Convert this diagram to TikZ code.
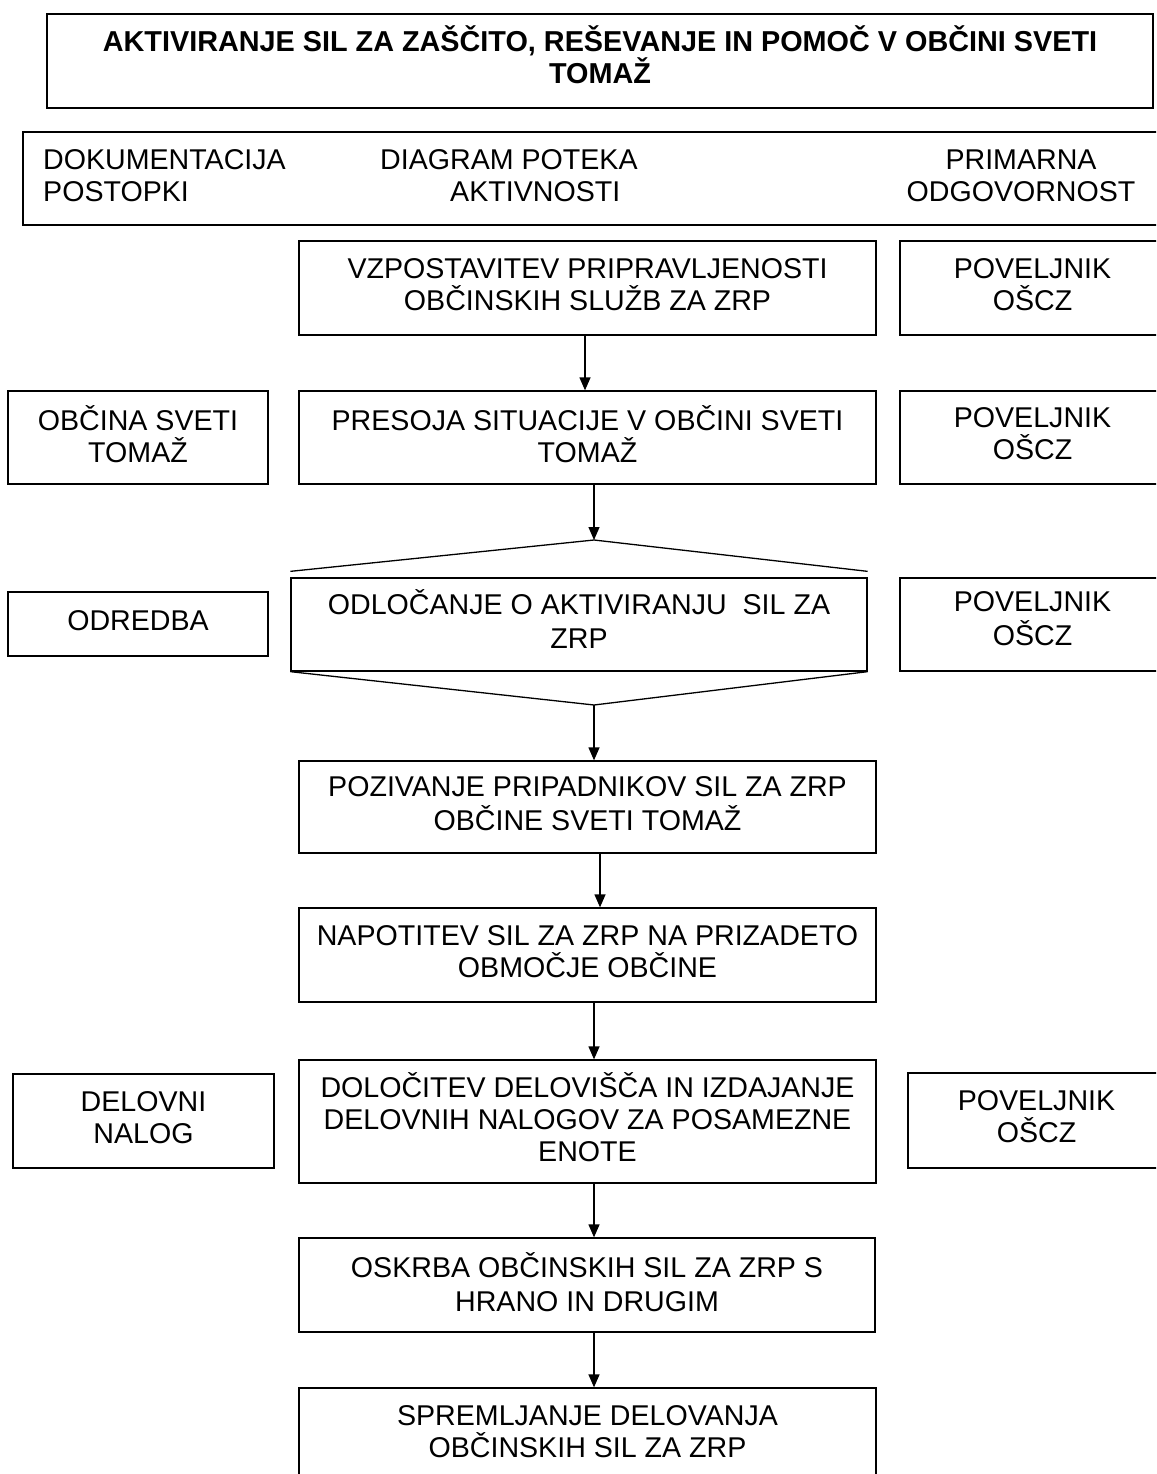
\documentclass[tikz,border=0pt]{standalone}
\usepackage{fontspec}
\setmainfont{Liberation Sans}
\usetikzlibrary{arrows.meta}
\begin{document}
\begin{tikzpicture}[x=1pt,y=-1pt,
  box/.style={draw, line width=1.3pt, align=center, inner sep=0pt, text depth=7pt,
    font=\fontsize{28.6}{32}\selectfont},
  lbl/.style={inner sep=0pt, font=\fontsize{28.6}{32}\selectfont},
  arr/.style={line width=1.3pt, -{Triangle[length=13pt,width=11pt]}},
  ln/.style={line width=1.3pt}]
\useasboundingbox (0,0) rectangle (1156,1474);
\begin{scope}
\clip (0,0) rectangle (1156,1474);
% title
\node[box, minimum width=1106pt, minimum height=94pt, text depth=13pt, font=\bfseries\fontsize{28.8}{30}\selectfont] (title) at (600,61)
  {AKTIVIRANJE SIL ZA ZAŠČITO, REŠEVANJE IN POMOČ V OBČINI SVETI\\TOMAŽ};
% header
\node[box, minimum width=1142pt, minimum height=93pt] (head) at (594,178.5) {};
\node[lbl, anchor=west, align=left] (h1) at (43,176) {DOKUMENTACIJA\\POSTOPKI};
\node[lbl, anchor=west, align=left] (h2) at (380,176) {DIAGRAM POTEKA\\\hspace*{70pt}AKTIVNOSTI};
\node[lbl, align=center] (h3) at (1021,176) {PRIMARNA\\ODGOVORNOST};
% main column
\node[box, minimum width=577pt, minimum height=94pt] (b1) at (587.5,288) {VZPOSTAVITEV PRIPRAVLJENOSTI\\OBČINSKIH SLUŽB ZA ZRP};
\node[box, minimum width=265pt, minimum height=94pt] (r1) at (1032.5,288) {POVELJNIK\\OŠCZ};
\node[box, minimum width=577pt, minimum height=93pt] (b2) at (587.5,437.5) {PRESOJA SITUACIJE V OBČINI SVETI\\TOMAŽ};
\node[box, minimum width=260pt, minimum height=93pt] (l2) at (138,437.5) {OBČINA SVETI\\TOMAŽ};
\node[box, minimum width=265pt, minimum height=93pt] (r2) at (1032.5,437.5) {POVELJNIK\\OŠCZ};
% decision
\node[box, minimum width=576pt, minimum height=93pt, text depth=11pt] (dec) at (579,624.5) {ODLOČANJE O AKTIVIRANJU \ SIL ZA\\[2pt]ZRP};
\coordinate (top) at (594,540);
\coordinate (bot) at (594,705);
\draw[ln] ([yshift=6pt]dec.north west) -- (top) -- ([yshift=6pt]dec.north east);
\draw[ln] (dec.south west) -- (bot) -- (dec.south east);
\node[box, minimum width=260pt, minimum height=64pt] (l3) at (138,624) {ODREDBA};
\node[box, minimum width=265pt, minimum height=93pt, text depth=11pt] (r3) at (1032.5,624.5) {POVELJNIK\\[2pt]OŠCZ};
\node[box, minimum width=577pt, minimum height=92pt] (b4) at (587.5,807) {POZIVANJE PRIPADNIKOV SIL ZA ZRP\\[2pt]OBČINE SVETI TOMAŽ};
\node[box, minimum width=577pt, minimum height=94pt] (b5) at (587.5,955) {NAPOTITEV SIL ZA ZRP NA PRIZADETO\\OBMOČJE OBČINE};
\node[box, minimum width=577pt, minimum height=123pt, text depth=9pt] (b6) at (587.5,1121.5) {DOLOČITEV DELOVIŠČA IN IZDAJANJE\\DELOVNIH NALOGOV ZA POSAMEZNE\\ENOTE};
\node[box, minimum width=261pt, minimum height=94pt] (l6) at (143.5,1121) {DELOVNI\\NALOG};
\node[box, minimum width=257pt, minimum height=95pt] (r6) at (1036.5,1120.5) {POVELJNIK\\OŠCZ};
\node[box, minimum width=576pt, minimum height=94pt] (b7) at (587,1285) {OSKRBA OBČINSKIH SIL ZA ZRP S\\[2pt]HRANO IN DRUGIM};
\node[box, minimum width=577pt, minimum height=94pt] (b8) at (587.5,1435) {SPREMLJANJE DELOVANJA\\OBČINSKIH SIL ZA ZRP};
% arrows
\draw[arr] ([xshift=-2.5pt]b1.south) -- ([xshift=-2.5pt]b2.north);
\draw[arr] ([xshift=6.5pt]b2.south) -- (top);
\draw[arr] (bot) -- ([xshift=6.5pt]b4.north);
\draw[arr] ([xshift=12.5pt]b4.south) -- ([xshift=12.5pt]b5.north);
\draw[arr] ([xshift=6.5pt]b5.south) -- ([xshift=6.5pt]b6.north);
\draw[arr] ([xshift=6.5pt]b6.south) -- ([xshift=7pt]b7.north);
\draw[arr] ([xshift=7pt]b7.south) -- ([xshift=6.5pt]b8.north);
\end{scope}
\end{tikzpicture}
\end{document}
